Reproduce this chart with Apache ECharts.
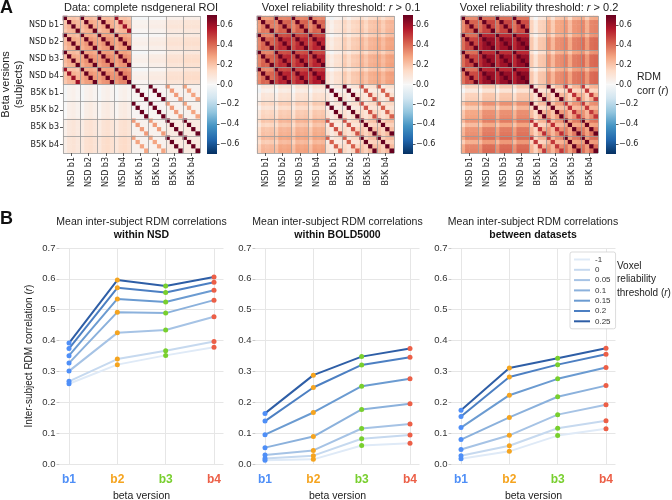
<!DOCTYPE html>
<html><head><meta charset="utf-8">
<script src="https://cdn.jsdelivr.net/npm/echarts@6/dist/echarts.min.js"></script>
<style>html,body{margin:0;padding:0;background:#fff}#c{width:672px;height:500px}</style>
</head><body><div id="c"></div><script>
// ---------- Panel A data (block-level values) ----------
const blockLabels = ['NSD b1','NSD b2','NSD b3','NSD b4','B5K b1','B5K b2','B5K b3','B5K b4'];
const colorbarTicks = [-0.6,-0.4,-0.2,0,0.2,0.4,0.6];
// Heatmap 1: complete nsdgeneral ROI
const h1NsdInter = [[0.22,0.24,0.24,0.22],[0.24,0.28,0.29,0.28],[0.24,0.29,0.31,0.3],[0.22,0.28,0.3,0.33]];
const h1B5kInter = [[0.012,0.013,0.03,0.03],[0.013,0.015,0.03,0.03],[0.03,0.03,0.06,0.065],[0.03,0.03,0.065,0.067]];
const h1Cross = [[0.015,0.02,0.02,0.02],[0.03,0.04,0.045,0.045],[0.07,0.085,0.09,0.095],[0.08,0.10,0.11,0.114]];
const h1NsdSame = [[1,0.75,0.7,0.6],[0.75,1,0.8,0.7],[0.7,0.8,1,0.8],[0.6,0.7,0.8,1]];
const h1B5kSame = [[1,0.7,0.3,0.28],[0.7,1,0.3,0.28],[0.3,0.3,1,0.7],[0.28,0.28,0.7,1]];
const h1NsdSubj = [-0.03,0.01,0.02,0.0];
const h1B5kSubj = [0,0,0,0];
// Heatmap 2: r > 0.1
const h2NsdInter = [[0.33,0.38,0.38,0.37],[0.38,0.49,0.49,0.5],[0.38,0.49,0.49,0.5],[0.37,0.5,0.5,0.53]];
const h2B5kInter = [[0.053,0.07,0.09,0.09],[0.07,0.089,0.12,0.12],[0.09,0.12,0.177,0.185],[0.09,0.12,0.185,0.195]];
const h2Cross = [[0.06,0.08,0.08,0.085],[0.12,0.15,0.155,0.16],[0.17,0.21,0.218,0.225],[0.2,0.245,0.25,0.254]];
const h2NsdSame = [[1,0.8,0.75,0.7],[0.8,1,0.8,0.75],[0.75,0.8,1,0.8],[0.7,0.75,0.8,1]];
const h2B5kSame = [[1,0.72,0.45,0.42],[0.72,1,0.45,0.42],[0.45,0.45,1,0.72],[0.42,0.42,0.72,1]];
const h2NsdSubj = [-0.05,0.02,0.01,0.02];
const h2B5kSubj = [0.01,-0.04,0.01,0.02];
// Heatmap 3: r > 0.2
const h3NsdInter = [[0.374,0.43,0.43,0.42],[0.43,0.571,0.56,0.57],[0.43,0.56,0.556,0.57],[0.42,0.57,0.57,0.589]];
const h3B5kInter = [[0.139,0.18,0.2,0.2],[0.18,0.248,0.27,0.28],[0.2,0.27,0.321,0.33],[0.2,0.28,0.33,0.346]];
const h3Cross = [[0.12,0.15,0.15,0.155],[0.23,0.28,0.28,0.285],[0.27,0.315,0.322,0.33],[0.3,0.35,0.355,0.356]];
const h3NsdSame = [[1,0.8,0.78,0.75],[0.8,1,0.8,0.78],[0.78,0.8,1,0.8],[0.75,0.78,0.8,1]];
const h3B5kSame = [[1,0.72,0.52,0.5],[0.72,1,0.52,0.5],[0.52,0.52,1,0.72],[0.5,0.5,0.72,1]];
const h3NsdSubj = [-0.06,0.02,0.02,0.02];
const h3B5kSubj = [0.02,-0.07,0.02,0.03];

// ---------- Panel B data ----------
const betaVersions = ['b1','b2','b3','b4'];
const thresholds = ['-1','0','0.05','0.1','0.15','0.2','0.25'];
const withinNSD = [
  [0.260,0.322,0.352,0.378],
  [0.268,0.340,0.367,0.397],
  [0.301,0.425,0.434,0.477],
  [0.327,0.492,0.489,0.531],
  [0.351,0.535,0.525,0.563],
  [0.374,0.571,0.556,0.589],
  [0.392,0.596,0.577,0.606]];
const withinB5K = [
  [0.012,0.015,0.060,0.067],
  [0.018,0.027,0.082,0.094],
  [0.029,0.044,0.115,0.130],
  [0.053,0.089,0.177,0.195],
  [0.095,0.167,0.252,0.276],
  [0.139,0.248,0.321,0.346],
  [0.164,0.288,0.348,0.374]];
const betweenDatasets = [
  [0.017,0.041,0.092,0.114],
  [0.027,0.059,0.116,0.140],
  [0.047,0.093,0.160,0.192],
  [0.079,0.151,0.218,0.254],
  [0.118,0.223,0.276,0.313],
  [0.154,0.282,0.322,0.356],
  [0.174,0.311,0.343,0.375]];

// ---------- styling ----------
const RDBU = ['#053061','#2166ac','#4393c3','#92c5de','#d1e5f0','#f7f7f7','#fddbc7','#f4a582','#d6604d','#b2182b','#67001f'];
const betaColors = ['#4f8ff7','#f5a41f','#78cf2e','#ec5f47'];
const lineColors = ['#dfeaf7','#c6d9ef','#a6c3e5','#8bb1dc','#6b9bd1','#4c7fc2','#2e5ea6'];
const SANS = 'Liberation Sans';
const DJV = 'DejaVu Sans';

function buildMatrix(nI, bI, cr, nS, bS, nSub, bSub) {
  const out = [];
  for (let r = 0; r < 32; r++) {
    const rb = Math.floor(r / 4), rs = r % 4, rN = rb < 4, ri = rb % 4;
    for (let c = 0; c < 32; c++) {
      const cb = Math.floor(c / 4), cs = c % 4, cN = cb < 4, ci = cb % 4;
      let v;
      if (rN && cN) v = rs === cs ? nS[ri][ci] : nI[ri][ci] + nSub[rs] + nSub[cs];
      else if (!rN && !cN) v = rs === cs ? bS[ri][ci] : bI[ri][ci] + bSub[rs] + bSub[cs];
      else if (!rN && cN) v = cr[ri][ci] + bSub[rs] + nSub[cs];
      else v = cr[ci][ri] + nSub[rs] + bSub[cs];
      v = Math.max(-0.7, Math.min(0.7, v));
      out.push([c, r, +v.toFixed(3)]);
    }
  }
  return out;
}
const heatData = [
  buildMatrix(h1NsdInter, h1B5kInter, h1Cross, h1NsdSame, h1B5kSame, h1NsdSubj, h1B5kSubj),
  buildMatrix(h2NsdInter, h2B5kInter, h2Cross, h2NsdSame, h2B5kSame, h2NsdSubj, h2B5kSubj),
  buildMatrix(h3NsdInter, h3B5kInter, h3Cross, h3NsdSame, h3B5kSame, h3NsdSubj, h3B5kSubj)
];
const cells = Array.from({length: 32}, (_, i) => String(i));

const grid = [], xAxis = [], yAxis = [], series = [];
const heatLefts = [63, 257, 461];
const cbLefts = [207, 403, 606];
const fmtTick = v => (v < 0 ? '\u2212' : '') + Math.abs(v).toFixed(1);
const mkGrid = (o) => Object.assign({outerBoundsMode: 'none', containLabel: false}, o);

// heatmaps
heatLefts.forEach((L, k) => {
  const g = grid.length;
  grid.push(mkGrid({left: L, top: 16, width: 137, height: 137}));
  const xd = xAxis.length;
  xAxis.push({type: 'category', gridIndex: g, data: cells, show: false, position: 'bottom'});
  xAxis.push({type: 'category', gridIndex: g, data: blockLabels, position: 'bottom', z: 5,
    axisLine: {show: false},
    axisTick: {show: true, alignWithLabel: true, length: 3, lineStyle: {color: '#333', width: 0.8}},
    axisLabel: {rotate: 90, interval: 0, fontSize: 8, fontFamily: DJV, color: '#222', margin: 4},
    splitLine: {show: true, interval: 0, lineStyle: {color: '#9a9a9a', width: 0.8}}});
  const yd = yAxis.length;
  yAxis.push({type: 'category', gridIndex: g, data: cells, inverse: true, show: false, position: 'left'});
  yAxis.push({type: 'category', gridIndex: g, data: blockLabels, inverse: true, z: 5, position: 'left',
    axisLine: {show: false},
    axisTick: {show: k === 0, alignWithLabel: true, length: 3, lineStyle: {color: '#333', width: 0.8}},
    axisLabel: {show: k === 0, interval: 0, fontSize: 8, fontFamily: DJV, color: '#222', margin: 4},
    splitLine: {show: true, interval: 0, lineStyle: {color: '#9a9a9a', width: 0.8}},
    name: k === 0 ? 'Beta versions\n(subjects)' : '', nameLocation: 'middle', nameRotate: 90, nameGap: 36,
    nameTextStyle: {fontSize: 11, fontFamily: SANS, color: '#222', lineHeight: 13}});
  series.push({type: 'heatmap', xAxisIndex: xd, yAxisIndex: yd, data: heatData[k], silent: true});
});

// colorbars
cbLefts.forEach((L, k) => {
  const g = grid.length;
  grid.push(mkGrid({left: L, top: 15, width: 10, height: 139}));
  const xi = xAxis.length;
  xAxis.push({type: 'category', gridIndex: g, data: ['c'], show: false});
  const yi = yAxis.length;
  yAxis.push({type: 'value', gridIndex: g, min: -0.7, max: 0.7, position: 'right',
    axisLine: {show: false}, splitLine: {show: false},
    axisTick: {show: true, length: 2.5, customValues: colorbarTicks, lineStyle: {color: '#333', width: 0.8}},
    axisLabel: {customValues: colorbarTicks, formatter: fmtTick, fontSize: 8, fontFamily: DJV, color: '#222', margin: 3}});
  series.push({type: 'bar', xAxisIndex: xi, yAxisIndex: yi, stack: 'cb' + k, barWidth: '100%', silent: true, data: [0.7],
    itemStyle: {color: {type: 'linear', x: 0, y: 1, x2: 0, y2: 0, colorStops: RDBU.slice(5).map((c, i) => ({offset: i / 5, color: c}))}}});
  series.push({type: 'bar', xAxisIndex: xi, yAxisIndex: yi, stack: 'cb' + k, barWidth: '100%', silent: true, data: [-0.7],
    itemStyle: {color: {type: 'linear', x: 0, y: 0, x2: 0, y2: 1, colorStops: RDBU.slice(0, 6).reverse().map((c, i) => ({offset: i / 5, color: c}))}}});
});

// panel B
const lineData = [withinNSD, withinB5K, betweenDatasets];
const innerLefts = [69, 265, 461];
innerLefts.forEach((L, k) => {
  const go = grid.length;
  grid.push(mkGrid({left: L - 9.5, top: 248, width: 164, height: 216}));
  xAxis.push({type: 'value', gridIndex: go, min: 0, max: 1, show: false});
  yAxis.push({type: 'value', gridIndex: go, min: 0, max: 0.7, interval: 0.1,
    axisLine: {show: false},
    axisTick: {show: true, length: 3, lineStyle: {color: '#c8c8c8'}},
    axisLabel: {fontSize: 9.5, fontFamily: SANS, color: '#333', margin: 4, formatter: v => v.toFixed(1)},
    splitLine: {lineStyle: {color: '#e6e6e6', width: 1}},
    name: k === 0 ? '{a|Inter-subject RDM correlation (}{i|r}{a|)}' : '', nameLocation: 'middle', nameGap: 25,
    nameTextStyle: {rich: {a: {fontSize: 10, fontFamily: SANS, color: '#222'}, i: {fontSize: 10, fontFamily: SANS, fontStyle: 'italic', color: '#222'}}}});
  const gi = grid.length;
  grid.push(mkGrid({left: L, top: 248, width: 145, height: 216}));
  const xi = xAxis.length;
  xAxis.push({type: 'category', gridIndex: gi, data: betaVersions, boundaryGap: false,
    axisLine: {show: false}, axisTick: {show: false},
    splitLine: {show: true, interval: 0, lineStyle: {color: '#e6e6e6', width: 1}},
    axisLabel: {interval: 0, margin: 10, formatter: v => '{' + v + '|' + v + '}',
      rich: Object.fromEntries(betaVersions.map((b, i) => [b, {fontSize: 12, fontWeight: 'bold', fontFamily: SANS, color: betaColors[i]}]))},
    name: 'beta version', nameLocation: 'middle', nameGap: 27,
    nameTextStyle: {fontSize: 10.5, fontFamily: SANS, color: '#222'}});
  const yi = yAxis.length;
  yAxis.push({type: 'value', gridIndex: gi, min: 0, max: 0.7, show: false});
  lineData[k].forEach((row, t) => {
    series.push({type: 'line', name: thresholds[t], xAxisIndex: xi, yAxisIndex: yi, silent: true,
      symbol: 'circle', symbolSize: 5, z: 3 + t * 0.01,
      lineStyle: {color: lineColors[t], width: 2},
      itemStyle: {color: lineColors[t]},
      data: row.map((v, i) => ({value: v, itemStyle: {color: betaColors[i]}}))});
  });
});

const baseTS = (rich) => ({fontWeight: 'normal', fontSize: 11, fontFamily: SANS, color: '#222', rich});
const titleRich = {
  a: {fontSize: 11, fontFamily: SANS, color: '#222', fontWeight: 'normal', lineHeight: 13},
  i: {fontSize: 11, fontFamily: SANS, fontStyle: 'italic', color: '#222', fontWeight: 'normal', lineHeight: 13},
  n: {fontSize: 10.5, fontFamily: SANS, color: '#222', lineHeight: 13, fontWeight: 'normal'},
  b: {fontSize: 10.5, fontFamily: SANS, fontWeight: 'bold', color: '#111', lineHeight: 13}
};
const sideRich = {
  a: {fontSize: 10, fontFamily: SANS, color: '#222', lineHeight: 13.5, fontWeight: 'normal'},
  i: {fontSize: 10, fontFamily: SANS, fontStyle: 'italic', color: '#222', lineHeight: 13.5, fontWeight: 'normal'}
};
const rdmRich = {
  a: {fontSize: 10.5, fontFamily: SANS, color: '#222', lineHeight: 14, fontWeight: 'normal'},
  i: {fontSize: 10.5, fontFamily: SANS, fontStyle: 'italic', color: '#222', lineHeight: 14, fontWeight: 'normal'}
};
const title = [
  {text: 'A', left: 0, top: -1, padding: 0, textStyle: {fontSize: 18, fontWeight: 'bold', fontFamily: SANS, color: '#111'}},
  {text: 'B', left: 0, top: 210, padding: 0, textStyle: {fontSize: 18, fontWeight: 'bold', fontFamily: SANS, color: '#111'}},
  {text: '{a|Data: complete nsdgeneral ROI}', left: 141, top: 1, padding: 0, textAlign: 'center', textStyle: baseTS(titleRich)},
  {text: '{a|Voxel reliability threshold: }{i|r}{a| > 0.1}', left: 341, top: 1, padding: 0, textAlign: 'center', textStyle: baseTS(titleRich)},
  {text: '{a|Voxel reliability threshold: }{i|r}{a| > 0.2}', left: 539, top: 1, padding: 0, textAlign: 'center', textStyle: baseTS(titleRich)},
  {text: '{a|RDM}\n{a|corr (}{i|r}{a|)}', left: 637, top: 70, padding: 0, textStyle: baseTS(rdmRich)},
  {text: '{n|Mean inter-subject RDM correlations}\n{b|within NSD}', left: 141.5, top: 216, padding: 0, textAlign: 'center', textStyle: baseTS(titleRich)},
  {text: '{n|Mean inter-subject RDM correlations}\n{b|within BOLD5000}', left: 337.5, top: 216, padding: 0, textAlign: 'center', textStyle: baseTS(titleRich)},
  {text: '{n|Mean inter-subject RDM correlations}\n{b|between datasets}', left: 533, top: 216, padding: 0, textAlign: 'center', textStyle: baseTS(titleRich)},
  {text: '{a|Voxel}\n{a|reliability}\n{a|threshold (}{i|r}{a|)}', left: 617, top: 259, padding: 0, textStyle: baseTS(sideRich)}
];

const chart = echarts.init(document.getElementById('c'), null, {renderer: 'canvas'});
chart.setOption({
  animation: false,
  backgroundColor: '#fff',
  title, grid, xAxis, yAxis, series,
  visualMap: {type: 'continuous', show: false, min: -0.7, max: 0.7, seriesIndex: [0, 1, 2], inRange: {color: RDBU}},
  legend: {data: thresholds, orient: 'vertical', left: 570, top: 252, icon: 'rect', itemWidth: 16, itemHeight: 2,
    itemGap: 1.3, selectedMode: false, borderColor: '#cccccc', borderWidth: 0.7, borderRadius: 2,
    padding: [3, 5, 3, 4], backgroundColor: '#fff',
    textStyle: {fontSize: 8, fontFamily: SANS, color: '#333', lineHeight: 9, padding: [0, 0, 0, 0]}}
});
</script></body></html>
